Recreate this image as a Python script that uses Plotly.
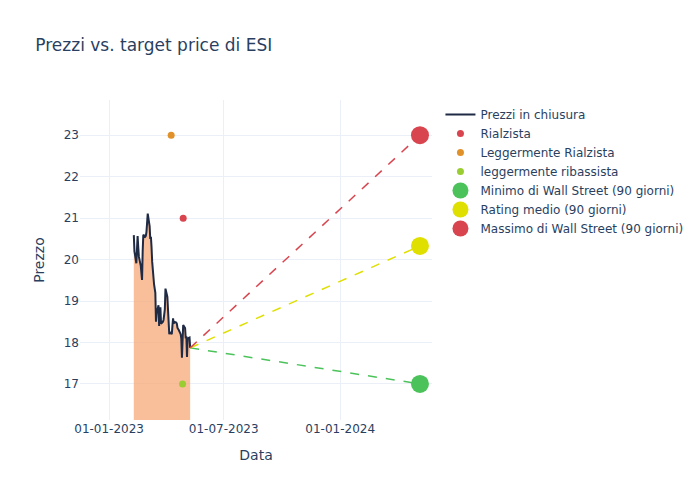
import pandas as pd
import plotly.graph_objects as go

# --- data ---
price_start = "2023-02-09"
price_end = "2023-05-09"
prices = [20.59, 20.2, 19.91, 20.2, 20.57, 20.3, 20.07, 19.85, 19.65, 19.51,
          20.2, 20.6, 20.55, 20.57, 20.67, 20.85, 21.11, 20.8, 20.5, 20.55,
          20.3, 19.95, 19.4, 19.25, 19.2, 18.5, 18.7, 18.9, 18.4, 18.7,
          18.85, 18.45, 18.5, 18.55, 18.7, 18.8, 19.3, 19.1, 18.8, 18.25,
          18.2, 18.25, 18.2, 18.4, 18.58, 18.45, 18.5, 18.48, 18.45, 18.35,
          18.3, 18.3, 18.2, 18.1, 17.63, 17.9, 18.42, 18.35, 18.1, 18.15,
          17.65, 18.1, 18.12, 17.87]
dates = pd.bdate_range(price_start, price_end)[:len(prices)]

rialzista_dates = ["2023-04-28"]
rialzista_vals = [21]
legg_rialzista_dates = ["2023-04-09"]
legg_rialzista_vals = [23]
legg_ribassista_dates = ["2023-04-27"]
legg_ribassista_vals = [17]

target_date = "2024-05-06"
target_min = 17.0
target_mean = 20.33
target_max = 23.0

tick_vals = ["2023-01-01", "2023-07-01", "2024-01-01"]
tick_text = ["01-01-2023", "01-07-2023", "01-01-2024"]

last_date = dates[-1]
last_price = prices[-1]

fig = go.Figure()
fig.add_trace(go.Scatter(x=dates, y=prices, mode="none", showlegend=False,
                         fill="tozeroy", fillcolor="rgba(246,170,120,0.75)", hoverinfo="skip"))
fig.add_trace(go.Scatter(x=dates, y=prices, mode="lines", name="Prezzi in chiusura",
                         line=dict(color="#1f2a44", width=2)))
fig.add_trace(go.Scatter(x=rialzista_dates, y=rialzista_vals, mode="markers", name="Rialzista",
                         marker=dict(color="#d9454f", size=7)))
fig.add_trace(go.Scatter(x=legg_rialzista_dates, y=legg_rialzista_vals, mode="markers",
                         name="Leggermente Rialzista", marker=dict(color="#e0912a", size=7)))
fig.add_trace(go.Scatter(x=legg_ribassista_dates, y=legg_ribassista_vals, mode="markers",
                         name="leggermente ribassista", marker=dict(color="#9acd32", size=7)))

for name, val, col in [("Minimo di Wall Street (90 giorni)", target_min, "#4cc35a"),
                       ("Rating medio (90 giorni)", target_mean, "#dfdf00"),
                       ("Massimo di Wall Street (90 giorni)", target_max, "#d9454f")]:
    fig.add_trace(go.Scatter(x=[last_date, target_date], y=[last_price, val], mode="lines",
                             line=dict(color=col, dash="dash", width=1.5), showlegend=False,
                             hoverinfo="skip"))
    fig.add_trace(go.Scatter(x=[target_date], y=[val], mode="markers", name=name,
                             marker=dict(color=col, size=18)))

fig.update_layout(
    template="plotly_white",
    width=700, height=500,
    title=dict(text="Prezzi vs. target price di ESI", x=0.039, y=0.937),
    font=dict(family="DejaVu Sans, Open Sans, sans-serif"),
    margin=dict(l=72, r=276, t=92, b=88),
    xaxis=dict(title="Data", range=["2022-11-16", "2024-05-25"],
               tickvals=tick_vals, ticktext=tick_text),
    yaxis=dict(title="Prezzo", range=[16.13, 23.85], dtick=1),
    legend=dict(x=1.024, y=1.0, yanchor="top"),
)

fig.write_html("out.html")
